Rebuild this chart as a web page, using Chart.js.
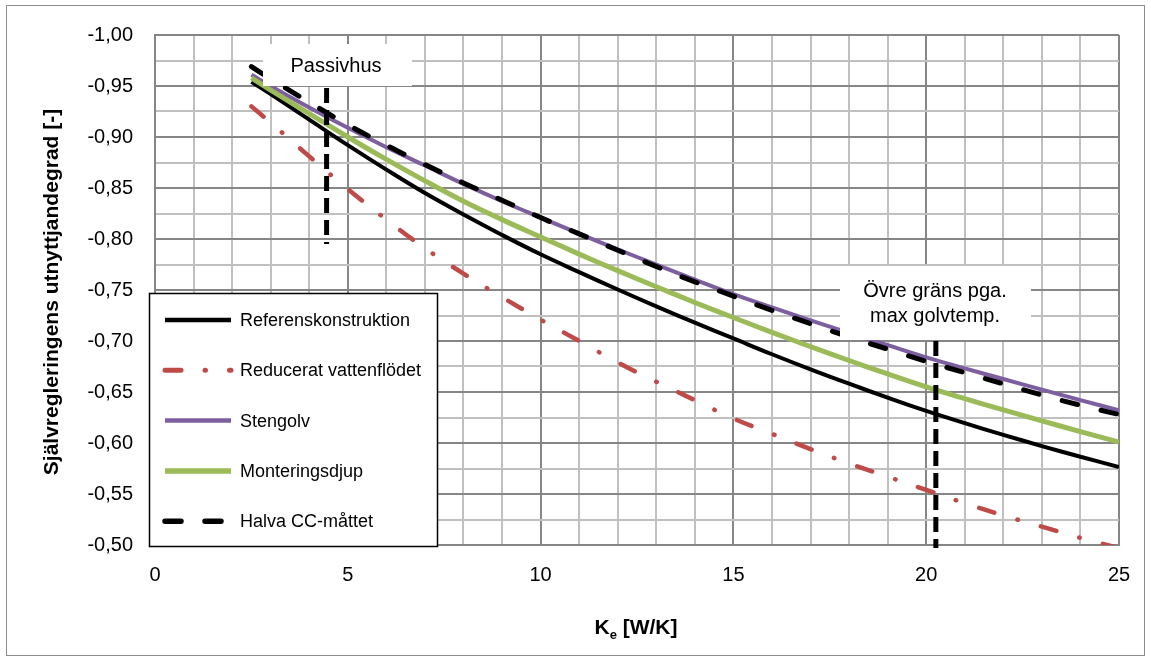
<!DOCTYPE html>
<html lang="sv">
<head>
  <meta charset="UTF-8" />
  <title>Självregleringens utnyttjandegrad</title>
  <style>
    html, body { margin: 0; padding: 0; background: #fff; }
    #wrap { width: 1151px; height: 662px; }
  </style>
</head>
<body>
  <div id="wrap"><canvas id="chart" width="1151" height="662"></canvas></div>

  <script src="https://cdn.jsdelivr.net/npm/chart.js@4.4.1/dist/chart.umd.min.js"></script>
  <script>
    // K_e [W/K] där kurvorna är beräknade
    const keValues = [2.5, 3, 4, 5, 6, 7, 8, 9, 10, 11, 12, 13, 14, 15, 16, 17, 18, 19, 20, 21, 22, 23, 24, 25];

    // utnyttjandegrad per fall
    const referens = [-0.954, -0.942, -0.917, -0.892, -0.868, -0.845, -0.824, -0.804, -0.785, -0.7675, -0.7505, -0.734,
                      -0.718, -0.7025, -0.687, -0.6722, -0.6581, -0.6445, -0.6315, -0.6195, -0.608, -0.597, -0.5865, -0.5765];
    const reduceratFlode = [-0.930, -0.914, -0.881, -0.849, -0.819, -0.791, -0.766, -0.743, -0.721, -0.700, -0.679, -0.660,
                            -0.642, -0.624, -0.609, -0.594, -0.580, -0.567, -0.554, -0.541, -0.529, -0.518, -0.507, -0.497];
    const stengolv = [-0.961, -0.950, -0.929, -0.909, -0.890, -0.872, -0.854, -0.837, -0.821, -0.8052, -0.7899, -0.7749,
                      -0.7602, -0.746, -0.7329, -0.7202, -0.7079, -0.6959, -0.684, -0.6732, -0.6627, -0.6523, -0.6421, -0.632];
    const monteringsdjup = [-0.958, -0.946, -0.923, -0.900, -0.878, -0.857, -0.837, -0.819, -0.802, -0.7852, -0.769, -0.7532,
                            -0.7378, -0.723, -0.7085, -0.6945, -0.6809, -0.6677, -0.655, -0.6435, -0.6325, -0.6217, -0.6112, -0.601];
    const halvaCC = [-0.969, -0.957, -0.934, -0.912, -0.892, -0.873, -0.855, -0.838, -0.821, -0.805, -0.789, -0.773,
                     -0.758, -0.744, -0.730, -0.717, -0.704, -0.692, -0.680, -0.669, -0.658, -0.647, -0.637, -0.628];

    // markeringslinjer
    const passivhusK = 4.45;
    const passivhusY = [-0.948, -0.795];
    const ovreGransK = 20.25;
    const ovreGransY = [-0.70, -0.497];

    // axlar
    const xTickLabels = [0, 5, 10, 15, 20, 25];
    const yTickLabels = [-1.00, -0.95, -0.90, -0.85, -0.80, -0.75, -0.70, -0.65, -0.60, -0.55, -0.50];

    const FONT = "'Liberation Sans', Arial, sans-serif";

    function toPoints(values) {
      return keValues.map((k, i) => ({ x: k, y: values[i] }));
    }

    function isMajorY(v) {
      return yTickLabels.some(t => Math.abs(t - v) < 1e-6);
    }

    // ram, etiketter, förklaring och axeltitlar
    const decorations = {
      id: 'decorations',
      beforeDraw(chart) {
        const c = chart.ctx;
        c.save();
        c.fillStyle = '#fff';
        c.fillRect(0, 0, chart.width, chart.height);
        c.strokeStyle = '#8c8c8c';
        c.lineWidth = 1;
        c.strokeRect(6.5, 5.5, 1138, 650);
        c.restore();
      },
      afterDatasetsDraw(chart) {
        const c = chart.ctx;
        c.save();

        // textrutor
        c.fillStyle = '#fff';
        c.fillRect(263, 44, 149, 42);
        c.fillRect(840, 266, 191, 74);
        c.fillStyle = '#000';
        c.font = '20px ' + FONT;
        c.textAlign = 'center';
        c.textBaseline = 'middle';
        c.fillText('Passivhus', 336, 66);
        c.fillText('Övre gräns pga.', 935, 291);
        c.fillText('max golvtemp.', 935, 316);

        // förklaring
        const lx = 149.5, ly = 293.5, lw = 288, lh = 253;
        c.fillStyle = '#fff';
        c.fillRect(lx, ly, lw, lh);
        c.strokeStyle = '#000';
        c.lineWidth = 1.5;
        c.strokeRect(lx, ly, lw, lh);

        const series = chart.data.datasets.filter(d => !d.marker);
        c.font = '18px ' + FONT;
        c.textAlign = 'left';
        series.forEach((ds, i) => {
          const y = 320 + i * 50.3;
          c.beginPath();
          c.strokeStyle = ds.borderColor;
          c.lineWidth = ds.borderWidth + 0.5;
          c.lineCap = ds.borderCapStyle || 'butt';
          c.setLineDash(ds.borderDash || []);
          c.moveTo(165, y);
          c.lineTo(231, y);
          c.stroke();
          c.setLineDash([]);
          c.fillStyle = '#000';
          c.fillText(ds.label, 240, y + 1);
        });

        // axeltitlar
        c.fillStyle = '#000';
        c.save();
        c.translate(52, 292);
        c.rotate(-Math.PI / 2);
        c.font = 'bold 21px ' + FONT;
        c.textAlign = 'center';
        c.textBaseline = 'middle';
        c.fillText('Självregleringens utnyttjandegrad [-]', 0, 0);
        c.restore();

        const big = 'bold 21px ' + FONT, small = 'bold 13px ' + FONT;
        c.textAlign = 'left';
        c.textBaseline = 'alphabetic';
        c.font = big;
        const wK = c.measureText('K').width;
        const wRest = c.measureText(' [W/K]').width;
        c.font = small;
        const wE = c.measureText('e').width;
        let x = 636 - (wK + wE + wRest) / 2;
        const base = 634;
        c.font = big;
        c.fillText('K', x, base);
        x += wK;
        c.font = small;
        c.fillText('e', x, base + 5);
        x += wE;
        c.font = big;
        c.fillText(' [W/K]', x, base);

        c.restore();
      }
    };

    const gridMinor = '#c0c0c0';
    const gridMajor = '#868686';

    new Chart(document.getElementById('chart').getContext('2d'), {
      type: 'line',
      data: {
        datasets: [
          {
            label: 'Referenskonstruktion',
            data: toPoints(referens),
            borderColor: '#000000',
            borderWidth: 4,
            order: 2
          },
          {
            label: 'Reducerat vattenflödet',
            data: toPoints(reduceratFlode),
            borderColor: '#BE4B48',
            borderWidth: 4.5,
            borderDash: [16, 24, 0.5, 24],
            borderCapStyle: 'round',
            order: 3
          },
          {
            label: 'Stengolv',
            data: toPoints(stengolv),
            borderColor: '#7D5FA0',
            borderWidth: 4,
            order: 4
          },
          {
            label: 'Monteringsdjup',
            data: toPoints(monteringsdjup),
            borderColor: '#9BBB59',
            borderWidth: 5,
            order: 1
          },
          {
            label: 'Halva CC-måttet',
            data: toPoints(halvaCC),
            borderColor: '#000000',
            borderWidth: 5,
            borderDash: [16, 24],
            borderCapStyle: 'round',
            order: 0
          },
          {
            label: 'Passivhus',
            marker: true,
            data: passivhusY.map(y => ({ x: passivhusK, y })),
            borderColor: '#000000',
            borderWidth: 5,
            borderDash: [15, 7],
            tension: 0,
            order: -1,
            clip: false
          },
          {
            label: 'Övre gräns',
            marker: true,
            data: ovreGransY.map(y => ({ x: ovreGransK, y })),
            borderColor: '#000000',
            borderWidth: 5,
            borderDash: [15, 7],
            tension: 0,
            order: -1,
            clip: false
          }
        ]
      },
      options: {
        responsive: false,
        animation: false,
        layout: { padding: { top: 35, right: 32, left: 0, bottom: 0 } },
        elements: {
          point: { radius: 0 },
          line: { tension: 0.4, fill: false }
        },
        plugins: {
          legend: { display: false },
          tooltip: { enabled: false }
        },
        scales: {
          x: {
            type: 'linear',
            min: 0,
            max: 25,
            ticks: {
              stepSize: 1,
              autoSkip: false,
              maxRotation: 0,
              padding: 18,
              color: '#000',
              font: { family: FONT, size: 20 },
              callback: v => xTickLabels.includes(v) ? String(v) : ''
            },
            grid: {
              drawTicks: false,
              lineWidth: 2,
              color: ctx => xTickLabels.includes(ctx.tick.value) ? gridMajor : gridMinor
            },
            border: { color: gridMajor, width: 2 },
            afterFit: s => { s.height = 117; }
          },
          y: {
            type: 'linear',
            min: -1,
            max: -0.5,
            reverse: true,
            ticks: {
              stepSize: 0.025,
              autoSkip: false,
              padding: 22,
              color: '#000',
              font: { family: FONT, size: 20 },
              callback: v => isMajorY(v) ? v.toFixed(2).replace('.', ',') : ''
            },
            grid: {
              drawTicks: false,
              lineWidth: 2,
              color: ctx => isMajorY(ctx.tick.value) ? gridMajor : gridMinor
            },
            border: { color: gridMajor, width: 2 },
            afterFit: s => { s.width = 155; }
          }
        }
      },
      plugins: [decorations]
    });
  </script>
</body>
</html>
